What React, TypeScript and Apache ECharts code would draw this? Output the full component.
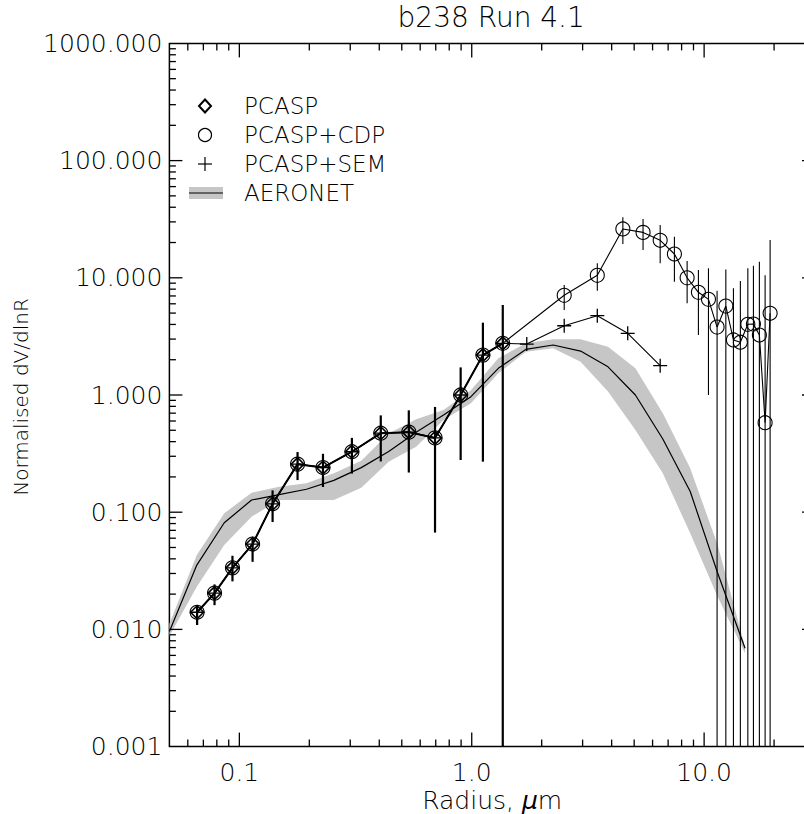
import React, { useEffect, useRef } from "react";
import * as echarts from "echarts";

// ---------------- data ----------------
const pcaspR = [0.0658, 0.0782, 0.0934, 0.114, 0.139, 0.178, 0.229, 0.305, 0.406, 0.536, 0.695, 0.896, 1.117, 1.36];
const pcaspV = [0.014, 0.0204, 0.0335, 0.0535, 0.118, 0.257, 0.2405, 0.328, 0.472, 0.482, 0.4305, 1.0, 2.19, 2.76];
const pcaspLo = [0.0109, 0.0161, 0.0257, 0.0377, 0.0824, 0.188, 0.164, 0.2135, 0.271, 0.218, 0.067, 0.279, 0.27, 0.001];
const pcaspHi = [0.0161, 0.0242, 0.0425, 0.06, 0.1535, 0.326, 0.315, 0.4305, 0.67, 0.74, 0.791, 1.72, 4.14, 5.86];

const cdpR = [2.5, 3.47, 4.47, 5.46, 6.47, 7.45, 8.45, 9.45, 10.44, 11.37, 12.4, 13.37, 14.32, 15.42, 16.3, 17.29, 18.3, 19.23];
const cdpV = [7.09, 10.5, 26.1, 24.4, 20.9, 15.96, 10.0, 7.52, 6.55, 3.8, 5.74, 2.95, 2.82, 4.01, 4.03, 3.25, 0.58, 4.98];
const cdpLo = [5.31, 7.76, 19.4, 17.3, 13.3, 9.26, 6.06, 3.25, 1.0, 0.001, 0.001, 0.001, 0.001, 0.001, 0.001, 0.001, 0.001, 0.001];
const cdpHi = [8.68, 13.3, 32.8, 31.8, 28.2, 22.4, 13.9, 11.66, 12.05, 7.76, 11.8, 8.13, 9.39, 12.05, 12.7, 13.7, 10.5, 21.0];

const semR = [1.725, 2.5, 3.47, 4.69, 6.47];
const semV = [2.72, 3.9, 4.75, 3.36, 1.78];

const aeroR = [0.05, 0.0656, 0.0861, 0.1129, 0.1482, 0.1944, 0.2551, 0.3347, 0.4392, 0.5762, 0.7561, 0.992, 1.3016, 1.7078, 2.2408, 2.94, 3.8575, 5.0613, 6.6407, 8.7131, 11.4323, 15.0];
const aeroV = [0.0096, 0.0354, 0.0813, 0.127, 0.141, 0.157, 0.187, 0.24, 0.33, 0.48, 0.675, 0.967, 1.69, 2.45, 2.67, 2.37, 1.74, 1.0, 0.421, 0.15, 0.0303, 0.0069];
const aeroUp = [0.0112, 0.0431, 0.0979, 0.1466, 0.165, 0.1765, 0.215, 0.2745, 0.47, 0.62, 0.745, 1.1, 2.06, 2.76, 2.99, 2.99, 2.58, 1.69, 0.698, 0.237, 0.0525, 0.0071];
const aeroLo = [0.0088, 0.0231, 0.0525, 0.0916, 0.127, 0.127, 0.127, 0.162, 0.27, 0.362, 0.612, 0.85, 1.53, 2.34, 2.5, 1.92, 1.07, 0.503, 0.215, 0.066, 0.019, 0.00625];

const xMajor = [0.1, 1, 10];
const xMinor = [0.06, 0.07, 0.08, 0.09, 0.2, 0.3, 0.4, 0.5, 0.6, 0.7, 0.8, 0.9, 2, 3, 4, 5, 6, 7, 8, 9, 20];
const yMajor = [0.01, 0.1, 1, 10, 100];
const yMinorMult = [2, 3, 4, 5, 6, 7, 8, 9];
const yDecades = [0.001, 0.01, 0.1, 1, 10, 100];

const titleText = "b238 Run 4.1";
const legendNames = ["PCASP", "PCASP+CDP", "PCASP+SEM", "AERONET"];

// ---------------- layout / style ----------------
const FONT = "DejaVu Sans";
const FW = 300;
const GL = 169.4;
const GT = 43.4;
const GW = 645.6;
const GH = 703.2;
const PLUS = "path://M6 0V12M0 6H12";

function isPow10(v: number) {
  const l = Math.log10(v);
  return Math.abs(l - Math.round(l)) < 1e-6;
}

function buildOption() {
  const yMinor: number[] = [];
  yDecades.forEach((d) => yMinorMult.forEach((m) => yMinor.push(d * m)));

  const xTickData = [
    ...xMajor.map((v) => [v, 1]),
    ...xMinor.map((v) => [v, 0]),
  ];
  const yTickData = [
    ...yMajor.map((v) => [v, 1]),
    ...yMinor.map((v) => [v, 0]),
  ];

  const pcaspPts = pcaspR.map((r, i) => [r, pcaspV[i]]);
  const cdpPts = [...pcaspPts, ...cdpR.map((r, i) => [r, cdpV[i]])];
  const semPts = [...pcaspPts, ...semR.map((r, i) => [r, semV[i]])];

  const errRender = (w: number) => (params: any, api: any) => {
    const x = api.value(0);
    const p1 = api.coord([x, api.value(1)]);
    const p2 = api.coord([x, api.value(2)]);
    return {
      type: "line",
      shape: { x1: p1[0], y1: p1[1], x2: p2[0], y2: p2[1] },
      style: { stroke: "#000", lineWidth: w },
    };
  };

  const legendY = [106, 135, 164, 193];
  const legendX = 205;

  return {
    animation: false,
    backgroundColor: "#fff",
    grid: {
      left: GL,
      top: GT,
      width: GW,
      height: GH,
      show: true,
      borderColor: "#000",
      borderWidth: 1.5,
      backgroundColor: "transparent",
    },
    xAxis: {
      type: "log",
      logBase: 10,
      min: 0.05,
      max: 30,
      axisLine: { show: false },
      axisTick: { show: false },
      minorTick: { show: false },
      splitLine: { show: false },
      axisLabel: {
        color: "#000",
        fontFamily: FONT,
        fontWeight: FW,
        fontSize: 25,
        margin: 13,
        formatter: (v: number) => (isPow10(v) ? v.toFixed(1) : ""),
      },
    },
    yAxis: {
      type: "log",
      logBase: 10,
      min: 0.001,
      max: 1000,
      axisLine: { show: false },
      axisTick: { show: false },
      minorTick: { show: false },
      splitLine: { show: false },
      axisLabel: {
        color: "#000",
        fontFamily: FONT,
        fontWeight: FW,
        fontSize: 25,
        margin: 7,
        formatter: (v: number) => (isPow10(v) ? v.toFixed(3) : ""),
      },
    },
    graphic: [
      {
        type: "text",
        x: GL + GW / 2 - 1,
        y: 17,
        style: {
          text: titleText,
          fontFamily: FONT,
          fontWeight: FW,
          fontSize: 28,
          fill: "#000",
          align: "center",
          verticalAlign: "middle",
        },
      },
      {
        type: "text",
        x: 21,
        y: GT + GH / 2 + 2,
        rotation: Math.PI / 2,
        style: {
          text: "Normalised dV/dlnR",
          fontFamily: FONT,
          fontWeight: FW,
          fontSize: 20,
          fill: "#000",
          align: "center",
          verticalAlign: "middle",
        },
      },
      {
        type: "text",
        x: GL + GW / 2,
        y: 800,
        style: {
          text: "Radius, {i|μ}m",
          fontFamily: FONT,
          fontWeight: FW,
          fontSize: 25,
          fill: "#000",
          align: "center",
          verticalAlign: "middle",
          rich: { i: { fontStyle: "italic", fontFamily: FONT, fontWeight: FW, fontSize: 25, fill: "#000" } },
        },
      },
      // legend symbols
      {
        type: "polygon",
        shape: {
          points: [
            [legendX, legendY[0] - 6.5],
            [legendX + 6, legendY[0]],
            [legendX, legendY[0] + 6.5],
            [legendX - 6, legendY[0]],
          ],
        },
        style: { fill: "none", stroke: "#000", lineWidth: 2 },
      },
      {
        type: "circle",
        shape: { cx: legendX, cy: legendY[1], r: 6.5 },
        style: { fill: "none", stroke: "#000", lineWidth: 1.2 },
      },
      {
        type: "line",
        shape: { x1: legendX - 7, y1: legendY[2], x2: legendX + 7, y2: legendY[2] },
        style: { stroke: "#000", lineWidth: 1.2 },
      },
      {
        type: "line",
        shape: { x1: legendX, y1: legendY[2] - 7, x2: legendX, y2: legendY[2] + 7 },
        style: { stroke: "#000", lineWidth: 1.2 },
      },
      {
        type: "rect",
        shape: { x: legendX - 16, y: legendY[3] - 6, width: 34, height: 12 },
        style: { fill: "#c6c6c6" },
      },
      {
        type: "line",
        shape: { x1: legendX - 16, y1: legendY[3], x2: legendX + 18, y2: legendY[3] },
        style: { stroke: "#000", lineWidth: 1.2 },
      },
      ...legendNames.map((n, i) => ({
        type: "text",
        x: 244,
        y: legendY[i],
        style: {
          text: n,
          fontFamily: FONT,
          fontWeight: FW,
          fontSize: 23,
          fill: "#000",
          verticalAlign: "middle",
        },
      })),
    ],
    series: [
      {
        name: "AERONET band",
        type: "custom",
        z: 1,
        data: aeroR.map((r, i) => [r, aeroLo[i], aeroUp[i]]),
        encode: { x: 0, y: [1, 2] },
        renderItem: (params: any, api: any) => {
          if (params.dataIndex !== 0) return null;
          const pts: number[][] = [];
          for (let i = 0; i < aeroR.length; i++) pts.push(api.coord([aeroR[i], aeroUp[i]]));
          for (let i = aeroR.length - 1; i >= 0; i--) pts.push(api.coord([aeroR[i], aeroLo[i]]));
          return { type: "polygon", shape: { points: pts }, style: { fill: "#c6c6c6" } };
        },
      },
      {
        name: "AERONET",
        type: "line",
        z: 2,
        data: aeroR.map((r, i) => [r, aeroV[i]]),
        symbol: "none",
        lineStyle: { color: "#000", width: 1.2 },
      },
      {
        name: "PCASP err",
        type: "custom",
        z: 3,
        data: pcaspR.map((r, i) => [r, pcaspLo[i], pcaspHi[i]]),
        encode: { x: 0, y: [1, 2] },
        renderItem: errRender(2.2),
      },
      {
        name: "CDP err",
        type: "custom",
        z: 3,
        data: cdpR.map((r, i) => [r, cdpLo[i], cdpHi[i]]),
        encode: { x: 0, y: [1, 2] },
        renderItem: errRender(1.1),
      },
      {
        name: "PCASP+CDP",
        type: "line",
        z: 4,
        data: cdpPts,
        symbol: "circle",
        symbolSize: 14,
        itemStyle: { color: "rgba(0,0,0,0)", borderColor: "#000", borderWidth: 1.1 },
        lineStyle: { color: "#000", width: 1.1 },
      },
      {
        name: "PCASP+SEM",
        type: "line",
        z: 4,
        data: semPts,
        symbol: PLUS,
        symbolSize: 14,
        itemStyle: { color: "rgba(0,0,0,0)", borderColor: "#000", borderWidth: 1.3 },
        lineStyle: { color: "#000", width: 1.1 },
      },
      {
        name: "PCASP",
        type: "line",
        z: 5,
        data: pcaspPts,
        symbol: "diamond",
        symbolSize: 13,
        itemStyle: { color: "rgba(0,0,0,0)", borderColor: "#000", borderWidth: 1.6 },
        lineStyle: { color: "#000", width: 2 },
      },
      {
        name: "x ticks",
        type: "custom",
        z: 6,
        data: xTickData,
        encode: { x: 0 },
        renderItem: (params: any, api: any) => {
          const cs = params.coordSys;
          const px = api.coord([api.value(0), 1])[0];
          const len = api.value(1) ? 14 : 7;
          const bottom = cs.y + cs.height;
          return {
            type: "group",
            children: [
              { type: "line", shape: { x1: px, y1: bottom, x2: px, y2: bottom - len }, style: { stroke: "#000", lineWidth: 1.3 } },
              { type: "line", shape: { x1: px, y1: cs.y, x2: px, y2: cs.y + len }, style: { stroke: "#000", lineWidth: 1.3 } },
            ],
          };
        },
      },
      {
        name: "y ticks",
        type: "custom",
        z: 6,
        data: yTickData.map((d) => [1, d[0], d[1]]),
        encode: { x: 0, y: 1 },
        renderItem: (params: any, api: any) => {
          const cs = params.coordSys;
          const py = api.coord([1, api.value(1)])[1];
          const len = api.value(2) ? 13 : 6.5;
          const right = cs.x + cs.width;
          return {
            type: "group",
            children: [
              { type: "line", shape: { x1: cs.x, y1: py, x2: cs.x + len, y2: py }, style: { stroke: "#000", lineWidth: 1.3 } },
              { type: "line", shape: { x1: right, y1: py, x2: right - len, y2: py }, style: { stroke: "#000", lineWidth: 1.3 } },
            ],
          };
        },
      },
    ],
  };
}

export default function App() {
  const ref = useRef<HTMLDivElement>(null);
  useEffect(() => {
    document.body.style.margin = "0";
    if (!ref.current) return;
    const chart = echarts.init(ref.current, null, { renderer: "svg" });
    chart.setOption(buildOption() as any);
    return () => {
      chart.dispose();
    };
  }, []);
  return (
    <div style={{ width: 804, height: 814, overflow: "hidden", position: "relative", background: "#fff" }}>
      <div ref={ref} style={{ width: 830, height: 814 }} />
    </div>
  );
}
